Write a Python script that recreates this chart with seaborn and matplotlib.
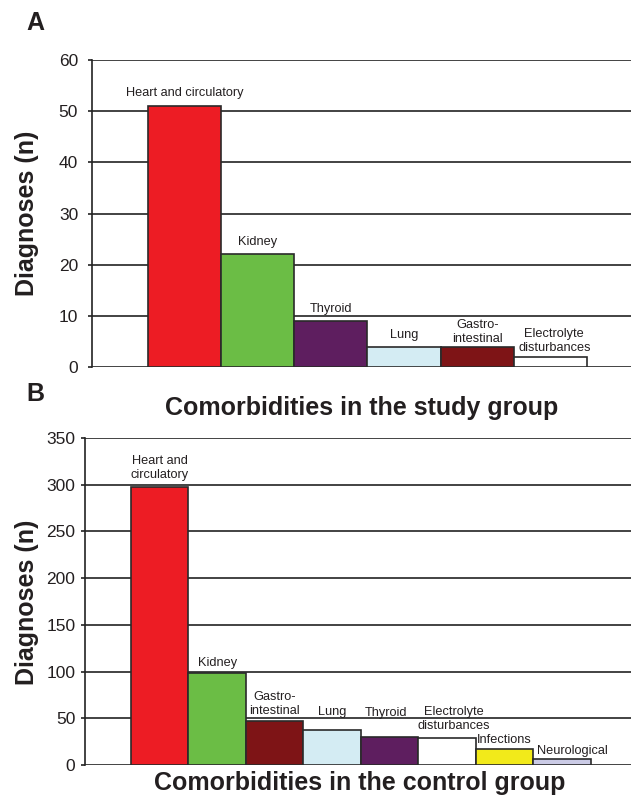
import matplotlib
matplotlib.use("Agg")
import matplotlib.pyplot as plt
import seaborn as sns
import pandas as pd

# ---- data ----
study_categories = ["Heart and circulatory", "Kidney", "Thyroid", "Lung",
                    "Gastro-\nintestinal", "Electrolyte\ndisturbances"]
study_values = [51, 22, 9, 4, 4, 2]
study_colors = ["#ED1C24", "#6BBD45", "#5E1E5F", "#D4ECF3", "#7E1416", "#FFFFFF"]

control_categories = ["Heart and\ncirculatory", "Kidney", "Gastro-\nintestinal", "Lung",
                      "Thyroid", "Electrolyte\ndisturbances", "Infections", "Neurological"]
control_values = [298, 99, 47, 37, 30, 29, 17, 6]
control_colors = ["#ED1C24", "#6BBD45", "#7E1416", "#D4ECF3", "#5E1E5F", "#FFFFFF",
                  "#F2EA1A", "#CBCBE6"]

study_yticks = [0, 10, 20, 30, 40, 50, 60]
control_yticks = [0, 50, 100, 150, 200, 250, 300, 350]

# label offsets (pixels): gap above bar, horizontal shift
study_gap_px = [10, 9.5, 9, 9, 5, 6]
study_dx_px = [0, 0, 0, 0, 0, 4]
control_gap_px = [9, 7, 7, 15, 21, 9, 6, 5]
control_dx_px = [0, 0, 0, 0, -4, 7, 0, 10]

sns.set_style("white")
plt.rcParams["font.family"] = ["Liberation Sans", "DejaVu Sans"]
TXT = "#231f20"

W, H = 631, 796
fig = plt.figure(figsize=(W / 100, H / 100), dpi=100)

def px2pt(p):
    return p * 72 / 100

def draw_panel(rect, cats, vals, cols, yticks, xlim, gaps, dxs, tick_pad):
    ax = fig.add_axes(rect)
    df = pd.DataFrame({"cat": cats, "val": vals})
    sns.barplot(data=df, x="cat", y="val", hue="cat", order=cats, hue_order=cats,
                palette=cols, width=1.0, legend=False, ax=ax,
                edgecolor="#2a2a2a", linewidth=1.2, saturation=1, zorder=3)
    ax.set_xlim(*xlim)
    ax.set_ylim(yticks[0], yticks[-1])
    ax.set_yticks(yticks)
    ax.set_yticklabels([str(t) for t in yticks], fontsize=12.5, color=TXT)
    ax.set_xticks([])
    ax.set_xlabel("")
    ax.set_ylabel("")
    ax.yaxis.grid(True, color="#222222", linewidth=1.2, zorder=0)
    ax.set_axisbelow(True)
    for s in ["top", "right", "bottom"]:
        ax.spines[s].set_visible(False)
    ax.spines["left"].set_color("#222222")
    ax.spines["left"].set_linewidth(1.2)
    ax.tick_params(axis="y", direction="out", length=3, width=1.2,
                   color="#222222", pad=tick_pad, left=True)
    for i, (lab, v) in enumerate(zip(cats, vals)):
        ax.annotate(lab, xy=(i, v), xytext=(px2pt(dxs[i]), px2pt(gaps[i])),
                    textcoords="offset points", ha="center", va="baseline",
                    fontsize=9.2, color=TXT, linespacing=1.22, zorder=5)
    return ax

axA = draw_panel([92 / W, 1 - 367 / H, 1 - 92 / W, (367 - 60) / H],
                 study_categories, study_values, study_colors, study_yticks,
                 (-1.267, 6.103), study_gap_px, study_dx_px, 7)
axB = draw_panel([85 / W, 1 - 765 / H, 1 - 85 / W, (765 - 438) / H],
                 control_categories, control_values, control_colors, control_yticks,
                 (-1.3, 8.196), control_gap_px, control_dx_px, 4)

# panel letters
fig.text(35 / W, 1 - 22.5 / H, "A", fontsize=18, fontweight="bold", color=TXT,
         ha="center", va="center")
fig.text(35 / W, 1 - 394 / H, "B", fontsize=18, fontweight="bold", color=TXT,
         ha="center", va="center")

# y labels
fig.text(27 / W, 1 - 213 / H, "Diagnoses (n)", fontsize=18, fontweight="bold",
         color=TXT, rotation=90, ha="center", va="center")
fig.text(27 / W, 1 - 602 / H, "Diagnoses (n)", fontsize=18, fontweight="bold",
         color=TXT, rotation=90, ha="center", va="center")

# x titles
fig.text(362 / W, 1 - 415 / H, "Comorbidities in the study group", fontsize=18,
         fontweight="bold", color=TXT, ha="center", va="baseline")
fig.text(360 / W, 1 - 790 / H, "Comorbidities in the control group", fontsize=18,
         fontweight="bold", color=TXT, ha="center", va="baseline")

fig.savefig("out.png", dpi=100)
